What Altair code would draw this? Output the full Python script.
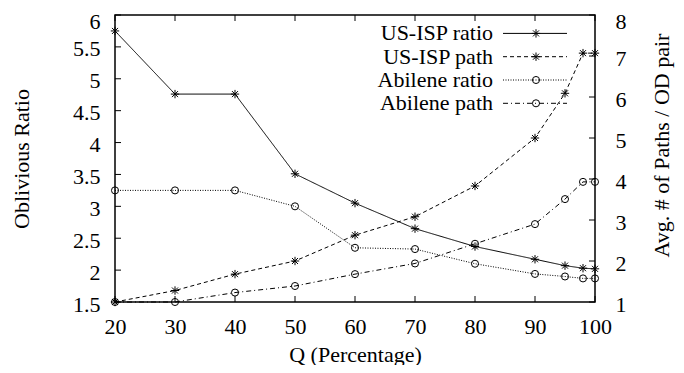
import altair as alt
import pandas as pd

# ---- data ----
q = [20, 30, 40, 50, 60, 70, 80, 90, 95, 98, 100]
usisp_ratio = [5.75, 4.76, 4.76, 3.51, 3.05, 2.65, 2.37, 2.17, 2.07, 2.03, 2.02]
usisp_path = [1.0, 1.28, 1.68, 2.0, 2.63, 3.08, 3.83, 5.0, 6.09, 7.07, 7.07]
abilene_ratio = [3.25, 3.25, 3.25, 3.0, 2.35, 2.33, 2.1, 1.94, 1.9, 1.87, 1.87]
abilene_path = [1.0, 1.0, 1.23, 1.39, 1.68, 1.94, 2.42, 2.9, 3.51, 3.93, 3.93]

x_ticks = [20, 30, 40, 50, 60, 70, 80, 90, 100]
left_ticks = [1.5, 2, 2.5, 3, 3.5, 4, 4.5, 5, 5.5, 6]
right_ticks = [1, 2, 3, 4, 5, 6, 7, 8]

series_names = ["US-ISP ratio", "US-ISP path", "Abilene ratio", "Abilene path"]

FONT = "Liberation Serif"
W, H = 480, 287

STAR = "M-1,0H1M0,-1V1M-0.72,-0.72L0.72,0.72M-0.72,0.72L0.72,-0.72"

styles = {
    "US-ISP ratio": dict(dash=[1, 0], shape=STAR, size=70),
    "US-ISP path": dict(dash=[4, 3], shape=STAR, size=70),
    "Abilene ratio": dict(dash=[1, 1.5], shape="circle", size=50),
    "Abilene path": dict(dash=[5, 3, 1, 3], shape="circle", size=50),
}

x_scale = alt.Scale(domain=[20, 100], nice=False, zero=False)
left_scale = alt.Scale(domain=[1.5, 6], nice=False, zero=False)
right_scale = alt.Scale(domain=[1, 8], nice=False, zero=False)

x_axis = alt.Axis(values=x_ticks, title="Q (Percentage)", labelPadding=14, labelFlush=False,
                  titleY=52, titleBaseline="middle")
left_axis = alt.Axis(values=left_ticks, format="~g", title="Oblivious Ratio",
                     labelPadding=15, labelFlush=False,
                     labelOffset={"condition": {"test": "datum.value >= 6", "value": 6.5}, "value": 2},
                     titleX=-94, titleBaseline="middle", titleAngle=270)
right_axis = alt.Axis(values=right_ticks, format="~g", orient="right",
                      title="Avg. # of Paths / OD pair", labelPadding=20, labelFlush=False,
                      labelOffset={"condition": {"test": "datum.value >= 8", "value": 6.5}, "value": 2},
                      titleX=66, titleY=130, titleBaseline="middle", titleAngle=270)

df = pd.DataFrame({
    "q": q,
    "US-ISP ratio": usisp_ratio,
    "US-ISP path": usisp_path,
    "Abilene ratio": abilene_ratio,
    "Abilene path": abilene_path,
})

X = alt.X("q:Q", scale=x_scale, axis=x_axis)


def series_layers(name, scale, axis):
    st = styles[name]
    Y = alt.Y(f"{name}:Q", scale=scale, axis=axis)
    line = alt.Chart(df).mark_line(color="black", strokeWidth=1, strokeDash=st["dash"]).encode(x=X, y=Y)
    pts = alt.Chart(df).mark_point(shape=st["shape"], size=st["size"], filled=False,
                                   color="black", strokeWidth=1, opacity=1).encode(x=X, y=Y)
    return [line, pts]


left_layers = []
left_layers += series_layers("US-ISP ratio", left_scale, left_axis)
left_layers += series_layers("Abilene ratio", left_scale, left_axis)

right_layers = []
right_layers += series_layers("US-ISP path", right_scale, right_axis)
right_layers += series_layers("Abilene path", right_scale, right_axis)

# inward tick marks (gnuplot style)
tick_len = 6
lt = pd.DataFrame({"v": left_ticks})
rt = pd.DataFrame({"v": right_ticks})
xt = pd.DataFrame({"v": x_ticks})
left_layers.append(alt.Chart(lt).mark_rule(color="black", strokeWidth=1).encode(
    y=alt.Y("v:Q", scale=left_scale, axis=left_axis), x=alt.value(0), x2=alt.value(tick_len)))
left_layers.append(alt.Chart(xt).mark_rule(color="black", strokeWidth=1).encode(
    x=alt.X("v:Q", scale=x_scale, axis=x_axis), y=alt.value(H - tick_len), y2=alt.value(H)))
left_layers.append(alt.Chart(xt).mark_rule(color="black", strokeWidth=1).encode(
    x=alt.X("v:Q", scale=x_scale, axis=x_axis), y=alt.value(0), y2=alt.value(tick_len)))
right_layers.append(alt.Chart(rt).mark_rule(color="black", strokeWidth=1).encode(
    y=alt.Y("v:Q", scale=right_scale, axis=right_axis), x=alt.value(W - tick_len), x2=alt.value(W)))

# legend (label left, sample right, gnuplot style)
dummy = pd.DataFrame({"a": [0]})
row_y = [18.4, 41.7, 65.0, 88.3]
for name, yy in zip(series_names, row_y):
    st = styles[name]
    left_layers.append(alt.Chart(dummy).mark_text(
        align="right", baseline="middle", font=FONT, fontSize=22, color="black").encode(
        x=alt.value(378), y=alt.value(yy), text=alt.value(name)))
    left_layers.append(alt.Chart(dummy).mark_rule(
        color="black", strokeWidth=1, strokeDash=st["dash"]).encode(
        x=alt.value(388), x2=alt.value(452), y=alt.value(yy)))
    left_layers.append(alt.Chart(dummy).mark_point(
        shape=st["shape"], size=st["size"], filled=False, color="black", strokeWidth=1, opacity=1).encode(
        x=alt.value(421), y=alt.value(yy)))

left = alt.layer(*left_layers)
right = alt.layer(*right_layers)

chart = alt.layer(left, right).resolve_scale(y="independent").properties(
    width=W, height=H,
    background="white",
    autosize=alt.AutoSizeParams(type="none"),
    padding={"left": 107, "top": 7, "right": 81, "bottom": 63},
).configure_view(
    stroke="black", strokeWidth=1.5
).configure_axis(
    labelFont=FONT, titleFont=FONT, labelFontSize=22, titleFontSize=22,
    titleFontWeight="normal", labelColor="black", titleColor="black",
    domain=False, ticks=False, tickSize=0, grid=False,
)

chart.save("out.html", embed_options={"renderer": "svg", "actions": False})
